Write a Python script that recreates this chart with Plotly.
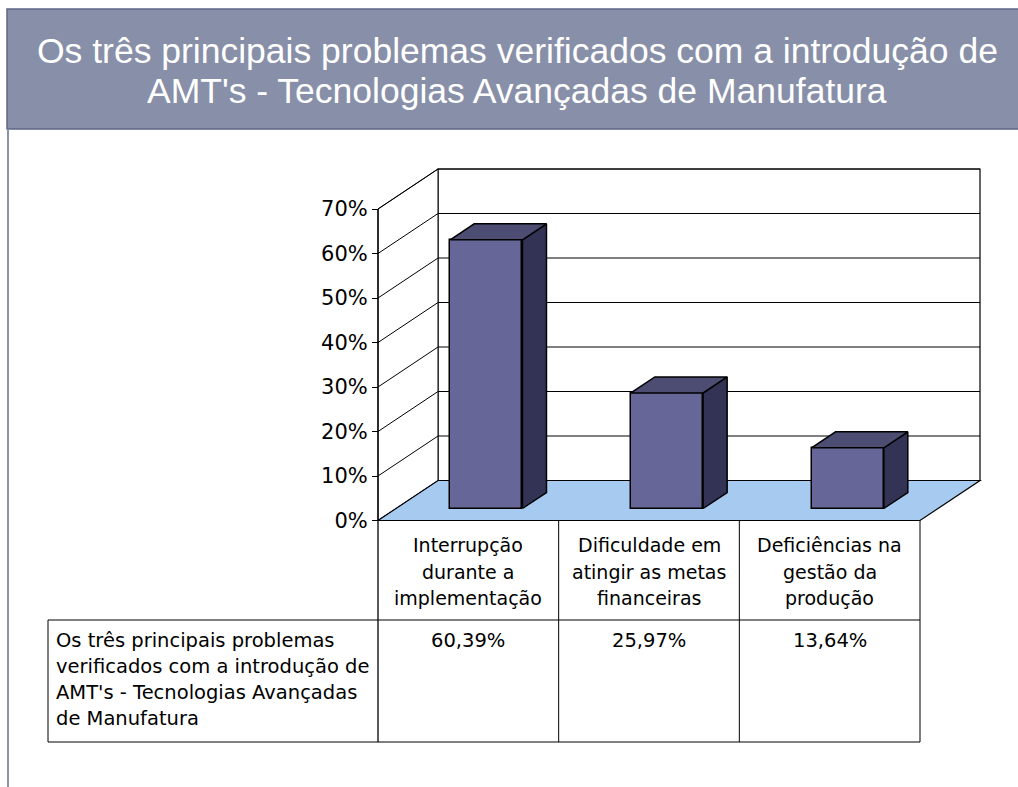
import plotly.graph_objects as go

# ---------------- data ----------------
categories = ["Interrupção<br>durante a<br>implementação",
              "Dificuldade em<br>atingir as metas<br>financeiras",
              "Deficiências na<br>gestão da<br>produção"]
values = [60.39, 25.97, 13.64]
value_labels = ["60,39%", "25,97%", "13,64%"]
series_name = ("Os três principais problemas<br>verificados com a introdução de<br>"
               "AMT's - Tecnologias Avançadas<br>de Manufatura")
y_ticks = [0, 10, 20, 30, 40, 50, 60, 70]
y_tick_text = ["0%", "10%", "20%", "30%", "40%", "50%", "60%", "70%"]
title_lines = ["Os três principais problemas verificados com a introdução de",
               "AMT's - Tecnologias Avançadas de Manufatura"]

# ---------------- layout geometry (pixels) ----------------
W, H = 1018, 787
X0 = 378.0           # pixel of category axis origin
CAT = 180.67         # pixels per category
Y0 = 520.5           # pixel of 0 %
PPU = (520.5 - 209.0) / 70.0   # pixels per percent
YMAX = 70

def dx(px):  # pixel x -> data x
    return (px - X0) / CAT

def dy(py):  # pixel y -> data y
    return (Y0 - py) / PPU

DX = 60.0 / CAT      # depth offset in data units
DY = 40.0 / PPU
F = 0.3              # bar front position (fraction of depth)
D = 0.4              # bar depth (fraction of depth)
BW = 0.4             # bar width (category units)
n = len(values)

FONT = "DejaVu Sans"
BLACK = "#000000"

fig = go.Figure()
shapes = []

# back wall
shapes.append(dict(type="path", layer="below", xref="x", yref="y",
                   path=f"M{DX},{DY} L{n+DX},{DY} L{n+DX},{YMAX+DY} L{DX},{YMAX+DY} Z",
                   fillcolor="white", line=dict(color=BLACK, width=1.2)))
# side wall
shapes.append(dict(type="path", layer="below", xref="x", yref="y",
                   path=f"M0,0 L{DX},{DY} L{DX},{YMAX+DY} L0,{YMAX} Z",
                   fillcolor="white", line=dict(color=BLACK, width=1.0)))
# gridlines (side + back)
for t in y_ticks[1:]:
    shapes.append(dict(type="path", layer="below", xref="x", yref="y",
                       path=f"M0,{t} L{DX},{t+DY} L{n+DX},{t+DY}",
                       line=dict(color=BLACK, width=1.0)))
# floor
shapes.append(dict(type="path", layer="below", xref="x", yref="y",
                   path=f"M0,0 L{n},0 L{n+DX},{DY} L{DX},{DY} Z",
                   fillcolor="#A6CAF0", line=dict(color=BLACK, width=1.2)))

# bars: front faces
centers = [i + 0.5 + F * DX for i in range(n)]
base = F * DY
fig.add_trace(go.Bar(x=centers, y=values, base=base, width=BW,
                     marker=dict(color="#666699", line=dict(color=BLACK, width=1.5)),
                     hoverinfo="skip", showlegend=False))
# side and top faces
for c, v in zip(centers, values):
    r = c + BW / 2
    l = c - BW / 2
    top = v + base
    fig.add_trace(go.Scatter(
        x=[r, r, r + D * DX, r + D * DX, r],
        y=[base, top, top + D * DY, base + D * DY, base],
        mode="lines", fill="toself", fillcolor="#333355",
        line=dict(color=BLACK, width=1.5), hoverinfo="skip", showlegend=False))
    fig.add_trace(go.Scatter(
        x=[l, r, r + D * DX, l + D * DX, l],
        y=[top, top, top + D * DY, top + D * DY, top],
        mode="lines", fill="toself", fillcolor="#4D4D73",
        line=dict(color=BLACK, width=1.5), hoverinfo="skip", showlegend=False))

# front value axis line and table
row1 = dy(620)
row2 = dy(742)
xleft = dx(48)
shapes.append(dict(type="line", xref="x", yref="y", x0=0, x1=0, y0=YMAX, y1=row2,
                   line=dict(color=BLACK, width=1.3)))
for i in range(1, n + 1):
    shapes.append(dict(type="line", xref="x", yref="y", x0=i, x1=i, y0=0, y1=row2,
                       line=dict(color=BLACK, width=1.0)))
for yy in (row1, row2):
    shapes.append(dict(type="line", xref="x", yref="y", x0=xleft, x1=n, y0=yy, y1=yy,
                       line=dict(color=BLACK, width=1.0)))
shapes.append(dict(type="line", xref="x", yref="y", x0=xleft, x1=xleft, y0=row1, y1=row2,
                   line=dict(color=BLACK, width=1.0)))

# title banner and slide border
shapes.append(dict(type="rect", xref="paper", yref="paper",
                   x0=7 / W, x1=1.01, y0=1 - 129 / H, y1=1 - 9 / H,
                   fillcolor="#888FA8", line=dict(color="#5E6688", width=1.5)))
shapes.append(dict(type="line", xref="paper", yref="paper",
                   x0=8 / W, x1=8 / W, y0=0, y1=1 - 129 / H,
                   line=dict(color="#8A92AC", width=2)))

annotations = []
# title
for j, (line, py) in enumerate(zip(title_lines, [51, 91])):
    annotations.append(dict(text=line, xref="paper", yref="paper", x=517 / W, y=1 - py / H,
                            xanchor="center", yanchor="middle", showarrow=False,
                            font=dict(family="Liberation Sans, Arial", size=35.5, color="white")))
# category labels
for i, cat in enumerate(categories):
    for j, part in enumerate(cat.split("<br>")):
        annotations.append(dict(text=part, xref="x", yref="y", x=i + 0.5, y=dy(545 + 26.5 * j),
                                xanchor="center", yanchor="middle", showarrow=False,
                                font=dict(family=FONT, size=19, color=BLACK)))
# values row
for i, lab in enumerate(value_labels):
    annotations.append(dict(text=lab, xref="x", yref="y", x=i + 0.5, y=dy(640),
                            xanchor="center", yanchor="middle", showarrow=False,
                            font=dict(family=FONT, size=19.5, color=BLACK)))
# series name
for j, part in enumerate(series_name.split("<br>")):
    annotations.append(dict(text=part, xref="x", yref="y", x=dx(54), y=dy(640 + 26 * j),
                            xanchor="left", yanchor="middle", showarrow=False,
                            font=dict(family=FONT, size=19.5, color=BLACK)))

fig.update_layout(
    width=W, height=H, margin=dict(l=0, r=0, t=0, b=0),
    paper_bgcolor="white", plot_bgcolor="rgba(0,0,0,0)",
    showlegend=False, bargap=0,
    shapes=shapes, annotations=annotations,
    xaxis=dict(range=[dx(0), dx(W)], domain=[0, 1], visible=False, fixedrange=True),
    yaxis=dict(range=[dy(H), dy(0)], domain=[0, 1], anchor="free", position=X0 / W,
               tickvals=y_ticks, ticktext=y_tick_text, ticks="outside", ticklen=6,
               tickcolor=BLACK, tickwidth=1.3, showline=False, showgrid=False,
               zeroline=False, fixedrange=True,
               tickfont=dict(family=FONT, size=21, color=BLACK)),
)

fig.write_html("out.html", config={"displayModeBar": False},
               post_script="document.body.style.margin='0';")
